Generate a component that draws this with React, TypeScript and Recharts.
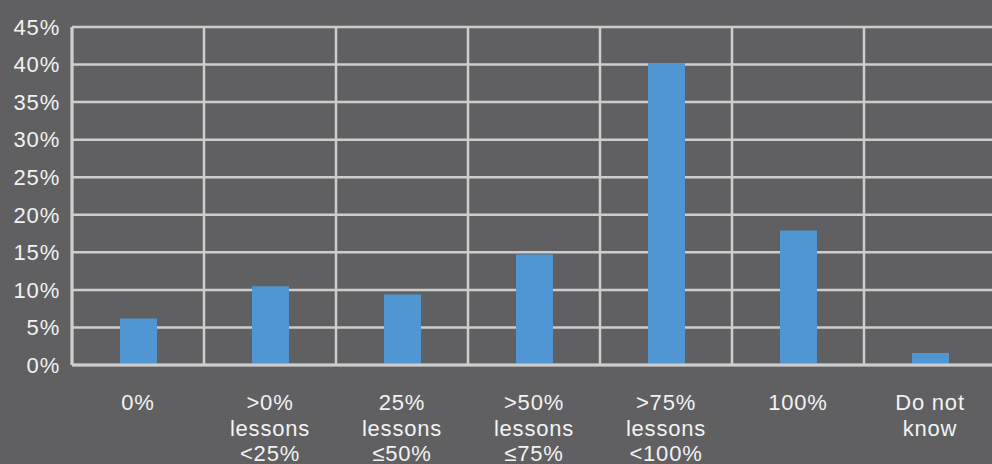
import { BarChart, Bar, XAxis, YAxis, CartesianGrid } from 'recharts';

const categories = ['0%', '>0%\nlessons\n<25%', '25%\nlessons\n≤50%', '>50%\nlessons\n≤75%', '>75%\nlessons\n<100%', '100%', 'Do not\nknow'];
const shares = [6.2, 10.5, 9.4, 14.7, 40.2, 17.9, 1.6];
const yTicks = [0, 5, 10, 15, 20, 25, 30, 35, 40, 45];

const data = categories.map((name, i) => ({ name, share: shares[i] }));

const FONT = '"Liberation Sans", Arial, Helvetica, sans-serif';
const TEXT = '#f2f2f2';
const GRID = '#cdcdcd';

function CategoryTick({ x, y, payload }: any) {
  const lines = String(payload.value).split('\n');
  return (
    <g>
      {lines.map((line, i) => (
        <text key={i} x={x} y={y + 43 + i * 25.5} textAnchor="middle" fill={TEXT} fontSize={22} fontFamily={FONT} letterSpacing={0.8}>
          {line}
        </text>
      ))}
    </g>
  );
}

export default function App() {
  return (
    <div style={{ position: 'absolute', left: 0, top: 0, width: 992, height: 464, overflow: 'hidden', background: '#606062' }}>
      <BarChart width={996} height={464} data={data} margin={{ top: 27, right: 0, left: 0, bottom: 0 }} barSize={37}>
        <CartesianGrid
          stroke={GRID}
          strokeWidth={2.5}
          verticalCoordinatesGenerator={({ offset }: any) =>
            categories.map((_, i) => offset.left + (i * offset.width) / categories.length)
          }
        />
        <XAxis
          dataKey="name"
          height={99}
          interval={0}
          tickLine={false}
          tickSize={0}
          axisLine={{ stroke: GRID, strokeWidth: 3 }}
          tick={<CategoryTick />}
        />
        <YAxis
          width={72}
          domain={[0, 45]}
          ticks={yTicks}
          tickFormatter={(v: number) => `${v}%`}
          tickLine={false}
          tickSize={0}
          tickMargin={12}
          axisLine={{ stroke: GRID, strokeWidth: 3 }}
          tick={{ fill: TEXT, fontSize: 22, fontFamily: FONT, letterSpacing: 0.8 }}
        />
        <Bar dataKey="share" fill="#4f96d2" isAnimationActive={false} />
      </BarChart>
    </div>
  );
}
